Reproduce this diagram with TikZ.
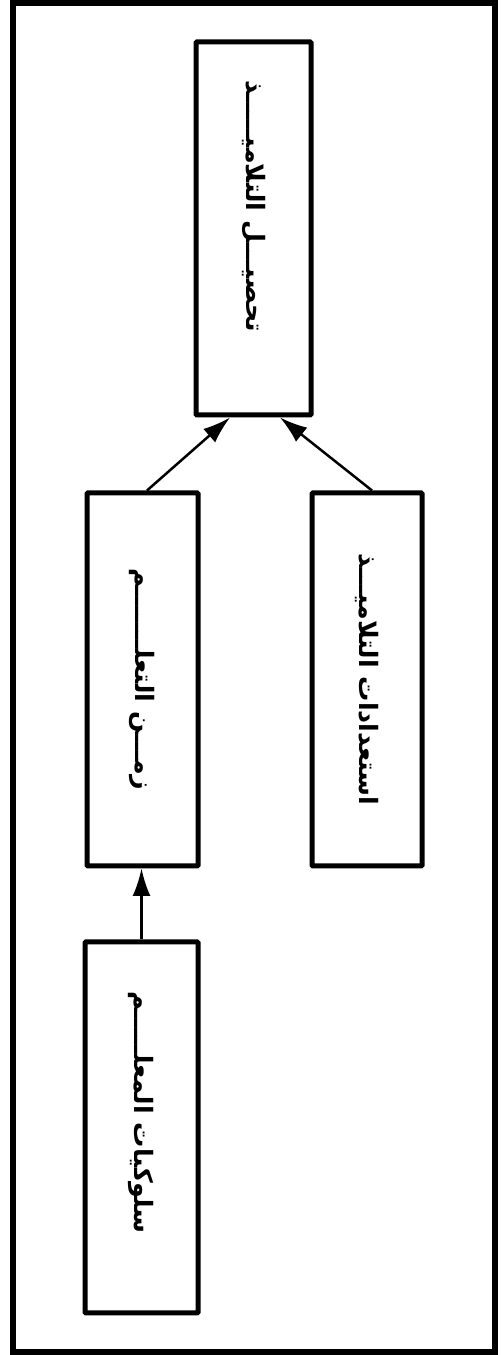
\documentclass[tikz,border=0pt]{standalone}
\usepackage{fontspec}
\usepackage{graphicx}
\newfontfamily\arabicfont[Script=Arabic]{DejaVu Sans}
\TeXXeTstate=1
\usetikzlibrary{arrows.meta}
\tikzset{
	factor/.style={draw, line width=0.1cm, inner sep=0pt, rounded corners=0.5pt},
	link/.style={line width=0.05cm, -{Latex[length=5.5mm,width=3.6mm]}},
}
\newcommand{\vtext}[1]{\rotatebox{-90}{\arabicfont\bfseries\Large\beginR #1\endR}}

\begin{document}
\begin{tikzpicture}
		%%%%% START %%%%%
		\useasboundingbox (0, 0) rectangle (10.02, 27.1);
		\draw[line width=0.12cm] (0.26, 0.06) rectangle (9.9, 27.04);
		
		\node[factor, minimum width=2.3cm, minimum height=7.46cm] (achieve) at (5.07, 22.53) {};
		\node at ([yshift=0.45cm]achieve.center) {\vtext{تحصيـــل التلاميـــــذ}};
		\node[factor, minimum width=2.22cm, minimum height=7.46cm] (time) at (2.85, 13.51) {\vtext{زمـــن التعلـــــــم}};
		\node[factor, minimum width=2.2cm, minimum height=7.46cm] (ready) at (7.34, 13.51) {\vtext{استعدادات التلاميـــذ}};
		\node[factor, minimum width=2.26cm, minimum height=7.42cm] (teacher) at (2.83, 4.55) {};
		\node at ([yshift=0.3cm]teacher.center) {\vtext{سلوكيات المعلـــــم}};
		
		\draw[link] ([xshift=0.09cm]time.north) -- ([xshift=-0.47cm]achieve.south);
		\draw[link] ([xshift=0.1cm]ready.north) -- ([xshift=0.53cm]achieve.south);
		\draw[link] (teacher.north) -- (teacher.north |- time.south);
		%%%%% END %%%%%
\end{tikzpicture}
\end{document}
